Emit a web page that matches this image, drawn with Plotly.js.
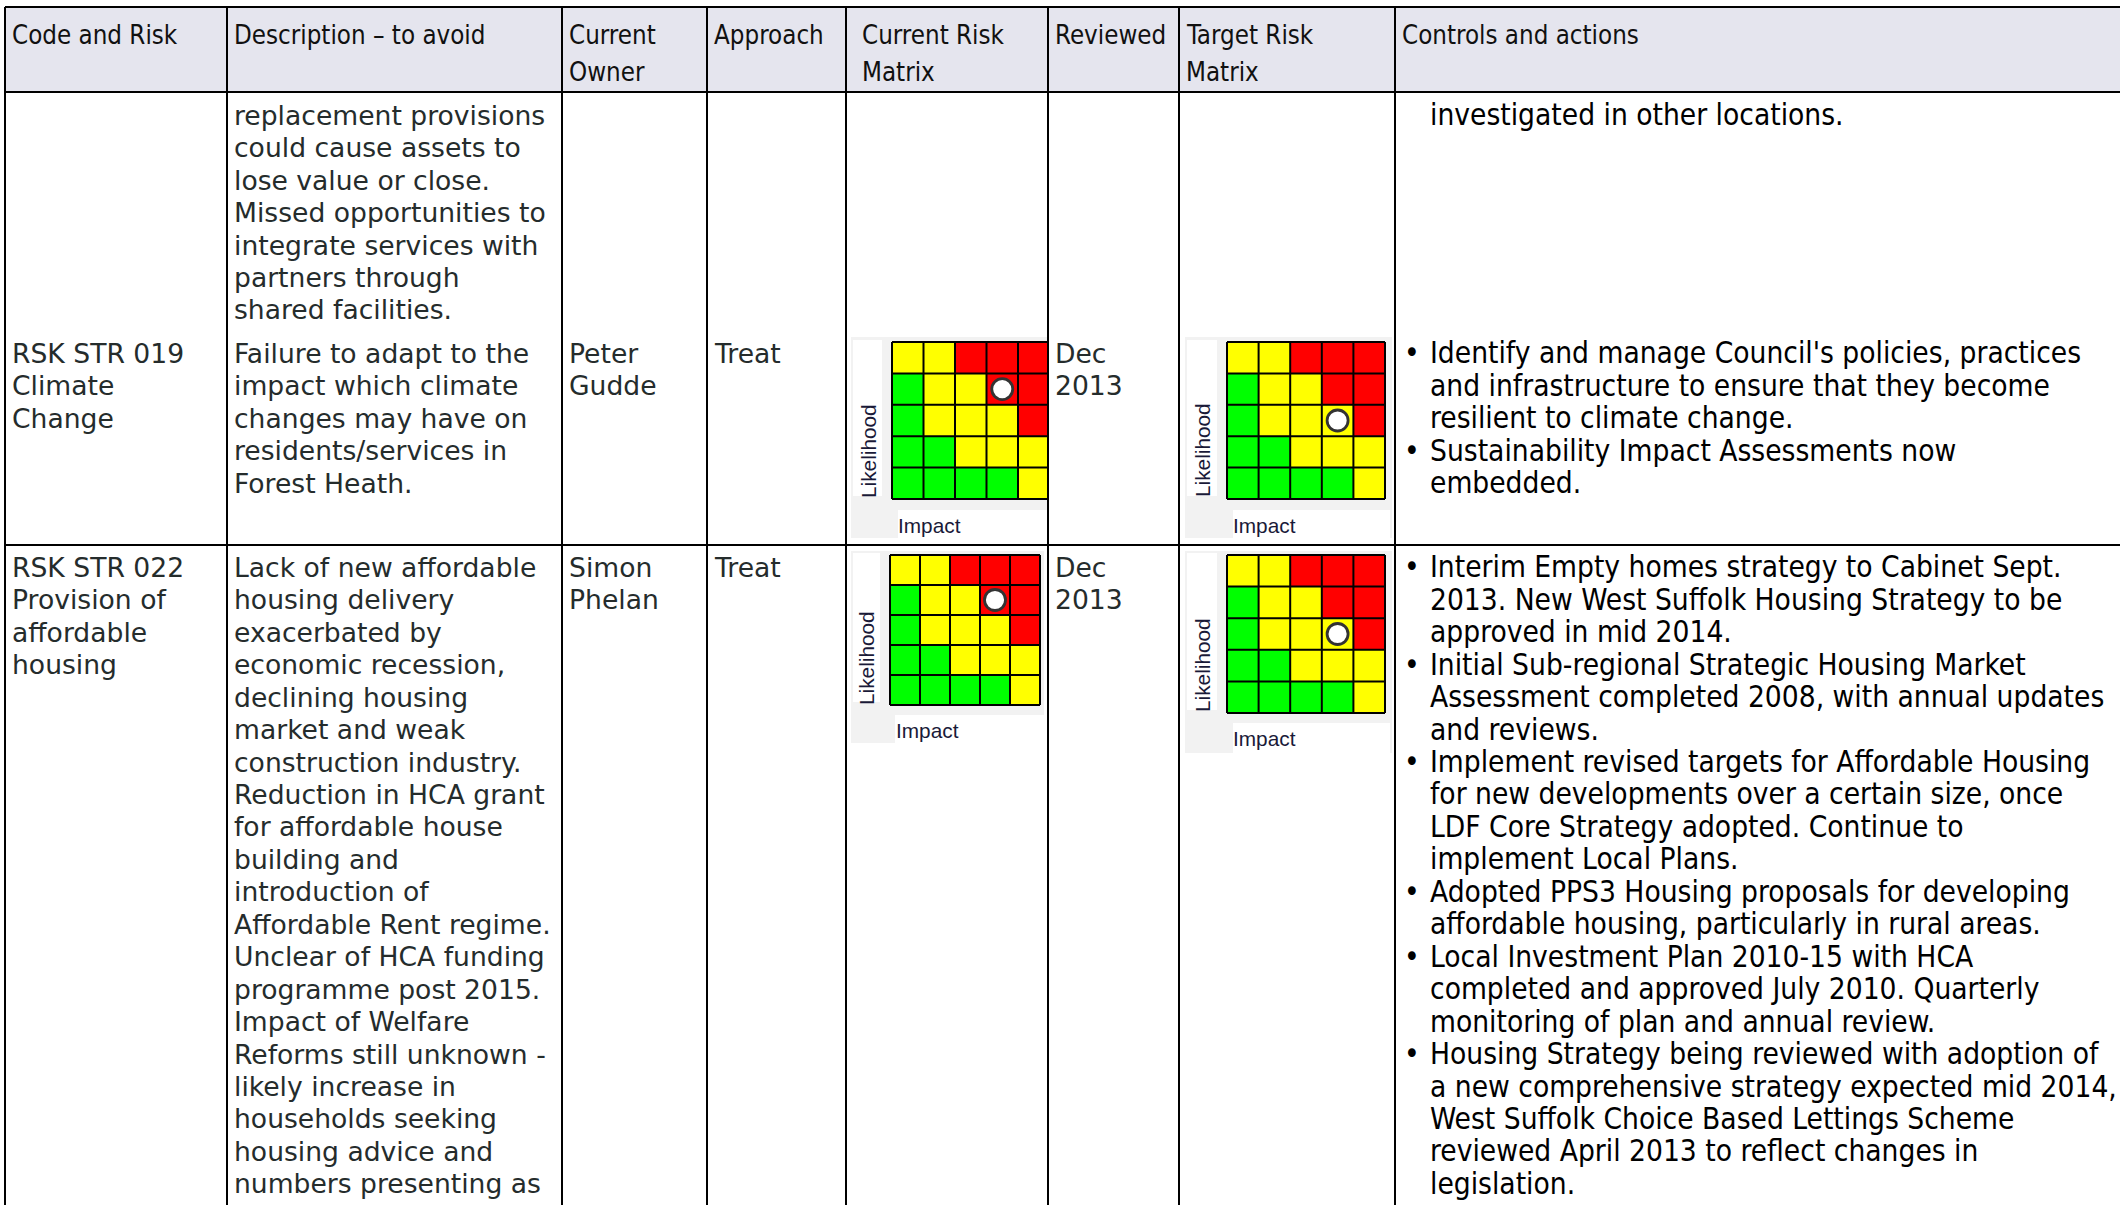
<!DOCTYPE html>
<html><head><meta charset="utf-8">
<script src="https://cdn.plot.ly/plotly-3.0.1.min.js"></script>
<style>html,body{margin:0;padding:0;background:#fff;}#chart{width:2120px;height:1205px;}</style>
</head><body><div id="chart"></div>
<script>
// ---------------- data ----------------
const headerLines = [["Code and Risk"], ["Description \u2013 to avoid"], ["Current", "Owner"], ["Approach"],
  ["Current Risk", "Matrix"], ["Reviewed"], ["Target Risk", "Matrix"], ["Controls and actions"]];
const impactLevels = [1, 2, 3, 4, 5];
const likelihoodLevels = [1, 2, 3, 4, 5];
// riskGrid[likelihood-1][impact-1] : 1 = low (green), 2 = medium (yellow), 3 = high (red)
const riskGrid = [
  [1, 1, 1, 1, 2],
  [1, 1, 2, 2, 2],
  [1, 2, 2, 2, 3],
  [1, 2, 2, 3, 3],
  [2, 2, 3, 3, 3]
];
const riskCodes = [[], ["RSK STR 019", "Climate", "Change"], ["RSK STR 022", "Provision of", "affordable", "housing"]];
const descriptions = [
  ["replacement provisions", "could cause assets to", "lose value or close.", "Missed opportunities to",
   "integrate services with", "partners through", "shared facilities."],
  ["Failure to adapt to the", "impact which climate", "changes may have on", "residents/services in", "Forest Heath."],
  ["Lack of new affordable", "housing delivery", "exacerbated by", "economic recession,", "declining housing",
   "market and weak", "construction industry.", "Reduction in HCA grant", "for affordable house", "building and",
   "introduction of", "Affordable Rent regime.", "Unclear of HCA funding", "programme post 2015.", "Impact of Welfare",
   "Reforms still unknown -", "likely increase in", "households seeking", "housing advice and", "numbers presenting as"]
];
const owners = [[], ["Peter", "Gudde"], ["Simon", "Phelan"]];
const approaches = [[], ["Treat"], ["Treat"]];
const reviewed = [[], ["Dec", "2013"], ["Dec", "2013"]];
const currentImpact = [null, 4, 4];
const currentLikelihood = [null, 4, 4];
const targetImpact = [null, 4, 4];
const targetLikelihood = [null, 3, 3];
const controlsContinued = [true, false, false];
const controls = [
  [["investigated in other locations."]],
  [["Identify and manage Council's policies, practices", "and infrastructure to ensure that they become", "resilient to climate change."],
   ["Sustainability Impact Assessments now", "embedded."]],
  [["Interim Empty homes strategy to Cabinet Sept.", "2013. New West Suffolk Housing Strategy to be", "approved in mid 2014."],
   ["Initial Sub-regional Strategic Housing Market", "Assessment completed 2008, with annual updates", "and reviews."],
   ["Implement revised targets for Affordable Housing", "for new developments over a certain size, once", "LDF Core Strategy adopted. Continue to", "implement Local Plans."],
   ["Adopted PPS3 Housing proposals for developing", "affordable housing, particularly in rural areas."],
   ["Local Investment Plan 2010-15 with HCA", "completed and approved July 2010. Quarterly", "monitoring of plan and annual review."],
   ["Housing Strategy being reviewed with adoption of", "a new comprehensive strategy expected mid 2014,", "West Suffolk Choice Based Lettings Scheme", "reviewed April 2013 to reflect changes in", "legislation."]]
];

// ---------------- layout geometry (pixels) ----------------
const W = 2120, H = 1205;
const fx = p => p / W, fy = p => 1 - p / H;
const colX = [5, 227, 562, 707, 846, 1048, 1179, 1395];
const headTextX = [11, 233, 568, 713, 861, 1054, 1185, 1401];
const bodyX = {code: 11, desc: 233, owner: 568, appr: 713, rev: 1054, bullet: 1403, ctrl: 1429};
const topY = 7, headBottom = 92, rowLines = [545];
const headY = [35, 72];
const rowFirstY = [115.3, 353.3, 567.3];
const lineH = 32.45;

const bodyFont = {family: 'DejaVu Sans, Verdana, sans-serif', size: 26.6, color: '#252c2c'};
const ctrlFont = {family: 'DejaVu Sans Condensed, DejaVu Sans, sans-serif', size: 29.6, color: '#000000'};
const headFont = {family: 'DejaVu Sans Condensed, DejaVu Sans, sans-serif', size: 25.7, color: '#111111'};
const labFont = {family: 'Liberation Sans, Arial, sans-serif', size: 20.8, color: '#1a1a38'};

const annotations = [], shapes = [], traces = [];
function txt(t, x, y, font, extra) {
  annotations.push(Object.assign({text: t, x: fx(x), y: fy(y), xref: 'paper', yref: 'paper',
    xanchor: 'left', yanchor: 'middle', showarrow: false, font: font, borderpad: 0}, extra || {}));
}
function rect(x0, y0, x1, y1, fill) {
  shapes.push({type: 'rect', xref: 'paper', yref: 'paper', x0: fx(x0), x1: fx(x1), y0: fy(y1), y1: fy(y0),
    fillcolor: fill, line: {width: 0}, layer: 'below'});
}
function line(x0, y0, x1, y1) {
  shapes.push({type: 'line', xref: 'paper', yref: 'paper', x0: fx(x0), x1: fx(x1), y0: fy(y0), y1: fy(y1),
    line: {color: '#000', width: 2}, layer: 'above'});
}

// header background + borders
rect(colX[0], topY, W, headBottom, '#e5e5ee');
line(colX[0], topY, W, topY);
line(colX[0], headBottom, W, headBottom);
rowLines.forEach(y => line(colX[0], y, W, y));
colX.forEach(x => line(x, topY, x, H));

// header text
headerLines.forEach((ls, i) => ls.forEach((t, j) => txt(t, headTextX[i], headY[j], headFont)));

// body text
function column(lines, x, r, font) { lines.forEach((t, j) => txt(t, x, rowFirstY[r] + j * lineH, font)); }
for (let r = 0; r < 3; r++) {
  column(riskCodes[r], bodyX.code, r, bodyFont);
  column(descriptions[r], bodyX.desc, r, bodyFont);
  column(owners[r], bodyX.owner, r, bodyFont);
  column(approaches[r], bodyX.appr, r, bodyFont);
  column(reviewed[r], bodyX.rev, r, bodyFont);
  let k = 0;
  controls[r].forEach((item, i) => {
    item.forEach((t, j) => {
      const y = rowFirstY[r] + k * lineH;
      if (j === 0 && !(i === 0 && controlsContinued[r])) txt('\u2022', bodyX.bullet, y, ctrlFont);
      txt(t, bodyX.ctrl, y, ctrlFont);
      k++;
    });
  });
}

// ---------------- risk matrices ----------------
const mats = [
  {row: 1, kind: 'current', gx0: 892, gy0: 342, cw: 31.5, ch: 31.4, clipRight: 1047,
   panel: [851, 337, 1048, 538], lbox: [853, 340, 882, 496], ibox: [898, 510, 1048, 538], lab: [868, 451], imp: [897, 525]},
  {row: 1, kind: 'target', gx0: 1227, gy0: 342, cw: 31.6, ch: 31.4,
   panel: [1185, 337, 1392, 538], lbox: [1187, 340, 1217, 496], ibox: [1233, 510, 1390, 538], lab: [1202, 450], imp: [1232, 525]},
  {row: 2, kind: 'current', gx0: 890, gy0: 555, cw: 30, ch: 30,
   panel: [851, 551, 1044, 743], lbox: [853, 553, 880, 702], ibox: [895, 715, 1044, 743], lab: [867, 658], imp: [895, 730]},
  {row: 2, kind: 'target', gx0: 1227, gy0: 555, cw: 31.6, ch: 31.6,
   panel: [1185, 551, 1392, 753], lbox: [1187, 553, 1217, 710], ibox: [1233, 723, 1390, 753], lab: [1202, 665], imp: [1232, 738]}
];
const colorscale = [[0, '#00ff00'], [0.3333, '#00ff00'], [0.3334, '#ffff00'], [0.6666, '#ffff00'], [0.6667, '#ff0000'], [1, '#ff0000']];
const layoutAxes = {};
mats.forEach((m, i) => {
  const n = i + 1, xa = 'x' + (n === 1 ? '' : n), ya = 'y' + (n === 1 ? '' : n);
  rect(...m.panel, '#f2f2f2');
  rect(...m.lbox, '#ffffff');
  rect(...m.ibox, '#ffffff');
  txt('Likelihood', m.lab[0], m.lab[1], labFont, {textangle: -90, xanchor: 'center'});
  txt('Impact', m.imp[0], m.imp[1], labFont);
  const pad = 2;
  const left = m.gx0 - pad, right = Math.min(m.gx0 + 5 * m.cw + pad, m.clipRight || 1e9);
  const top = m.gy0 - pad, bottom = m.gy0 + 5 * m.ch + pad;
  const vx = p => 0.5 + (p - m.gx0) / m.cw;
  const vy = p => 5.5 - (p - m.gy0) / m.ch;
  layoutAxes['xaxis' + (n === 1 ? '' : n)] = {domain: [fx(left), fx(right)], range: [vx(left), vx(right)], anchor: ya,
    visible: false, fixedrange: true};
  layoutAxes['yaxis' + (n === 1 ? '' : n)] = {domain: [fy(bottom), fy(top)], range: [vy(bottom), vy(top)], anchor: xa,
    visible: false, fixedrange: true};
  traces.push({type: 'heatmap', x: impactLevels, y: likelihoodLevels, z: riskGrid, zmin: 1, zmax: 3,
    colorscale: colorscale, showscale: false, hoverinfo: 'skip', xaxis: xa, yaxis: ya});
  const imp = m.kind === 'current' ? currentImpact[m.row] : targetImpact[m.row];
  const lik = m.kind === 'current' ? currentLikelihood[m.row] : targetLikelihood[m.row];
  for (let k = 0; k <= 5; k++) {
    shapes.push({type: 'line', xref: xa, yref: ya, x0: k + 0.5, x1: k + 0.5, y0: 0.5, y1: 5.5, line: {color: '#000', width: 2}, layer: 'above'});
    shapes.push({type: 'line', xref: xa, yref: ya, x0: 0.5, x1: 5.5, y0: k + 0.5, y1: k + 0.5, line: {color: '#000', width: 2}, layer: 'above'});
  }
  traces.push({type: 'scatter', mode: 'markers', x: [imp], y: [lik], xaxis: xa, yaxis: ya, hoverinfo: 'skip',
    marker: {size: 21, color: '#ffffff', line: {color: '#333333', width: 2.8}}, cliponaxis: false});
});

const layout = Object.assign({
  width: W, height: H, margin: {l: 0, r: 0, t: 0, b: 0},
  paper_bgcolor: '#ffffff', plot_bgcolor: 'rgba(0,0,0,0)', showlegend: false,
  shapes: shapes, annotations: annotations
}, layoutAxes);
Plotly.newPlot('chart', traces, layout, {staticPlot: true, displayModeBar: false});
</script>
</body></html>
